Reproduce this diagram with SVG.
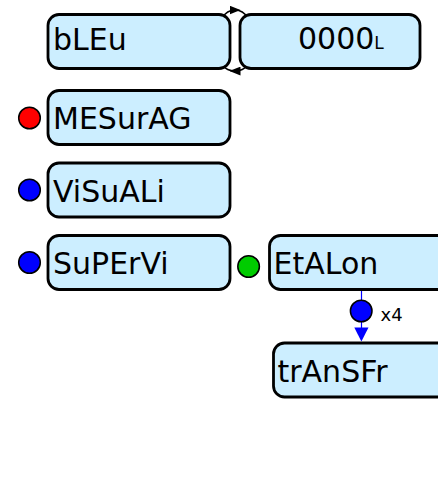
<svg xmlns="http://www.w3.org/2000/svg" width="438" height="501" viewBox="0 0 438 501">
<defs>
<style>
.box{fill:#cceeff;stroke:#000;stroke-width:2.8}
.lbl{font-family:"DejaVu Sans",Verdana,sans-serif;font-size:30px;fill:#000}
.small{font-family:"DejaVu Sans",Verdana,sans-serif;font-size:18px;fill:#000}
.dot{stroke:#000;stroke-width:1.5}
.conn{fill:none;stroke:#000;stroke-width:1.5}
</style>
<marker id="arr" viewBox="0 0 10 8" refX="5" refY="4" markerWidth="11" markerHeight="9" markerUnits="userSpaceOnUse" orient="auto">
<path d="M0,0 L10,4 L0,8 z" fill="#000"/>
</marker>
</defs>
<rect width="438" height="501" fill="#fff"/>
<g id="connectors">
<path class="conn" d="M222,18 Q227,10 235,10 Q243,10 248,18" marker-mid="url(#arr)"/>
<path class="conn" d="M248,65 Q243,71 235,71 Q227,71 222,65" marker-mid="url(#arr)"/>
<line x1="361.5" y1="290" x2="361.5" y2="329" stroke="#0000ff" stroke-width="1.2"/>
<polygon points="354.3,327.5 368.5,327.5 361.4,341.5" fill="#0000ff"/>
<circle class="dot" cx="361.2" cy="311" r="10.8" fill="#0000ff"/>
<text class="small" x="380.5" y="320.5">x4</text>
</g>
<g id="bLEu">
<rect class="box" x="48" y="14.5" width="182" height="54" rx="11"/>
<text class="lbl" x="53" y="49.5">bLEu</text>
</g>
<g id="value">
<rect class="box" x="240" y="14.5" width="180" height="54" rx="11"/>
<text class="lbl" x="298" y="48.5">0000<tspan style="font-size:17px">L</tspan></text>
</g>
<g id="MESurAG">
<circle class="dot" cx="29.5" cy="118" r="10.8" fill="#ff0000"/>
<rect class="box" x="48" y="90.5" width="182" height="54" rx="11"/>
<text class="lbl" x="53" y="129">MESurAG</text>
</g>
<g id="ViSuALi">
<circle class="dot" cx="29.5" cy="190" r="10.8" fill="#0000ff"/>
<rect class="box" x="48" y="163" width="182" height="54" rx="11"/>
<text class="lbl" x="53" y="201.5">ViSuALi</text>
</g>
<g id="SuPErVi">
<circle class="dot" cx="29.5" cy="262.5" r="10.8" fill="#0000ff"/>
<rect class="box" x="48" y="235.5" width="182" height="54" rx="11"/>
<text class="lbl" x="53" y="274">SuPErVi</text>
</g>
<g id="EtALon">
<circle class="dot" cx="248.6" cy="266.5" r="10.8" fill="#00cc00"/>
<rect class="box" x="269.5" y="235.5" width="200" height="54" rx="11"/>
<text class="lbl" x="273.5" y="274">EtALon</text>
</g>
<g id="trAnSFr">
<rect class="box" x="273.5" y="343" width="200" height="54" rx="11"/>
<text class="lbl" x="277.5" y="381.5">trAnSFr</text>
</g>
</svg>
